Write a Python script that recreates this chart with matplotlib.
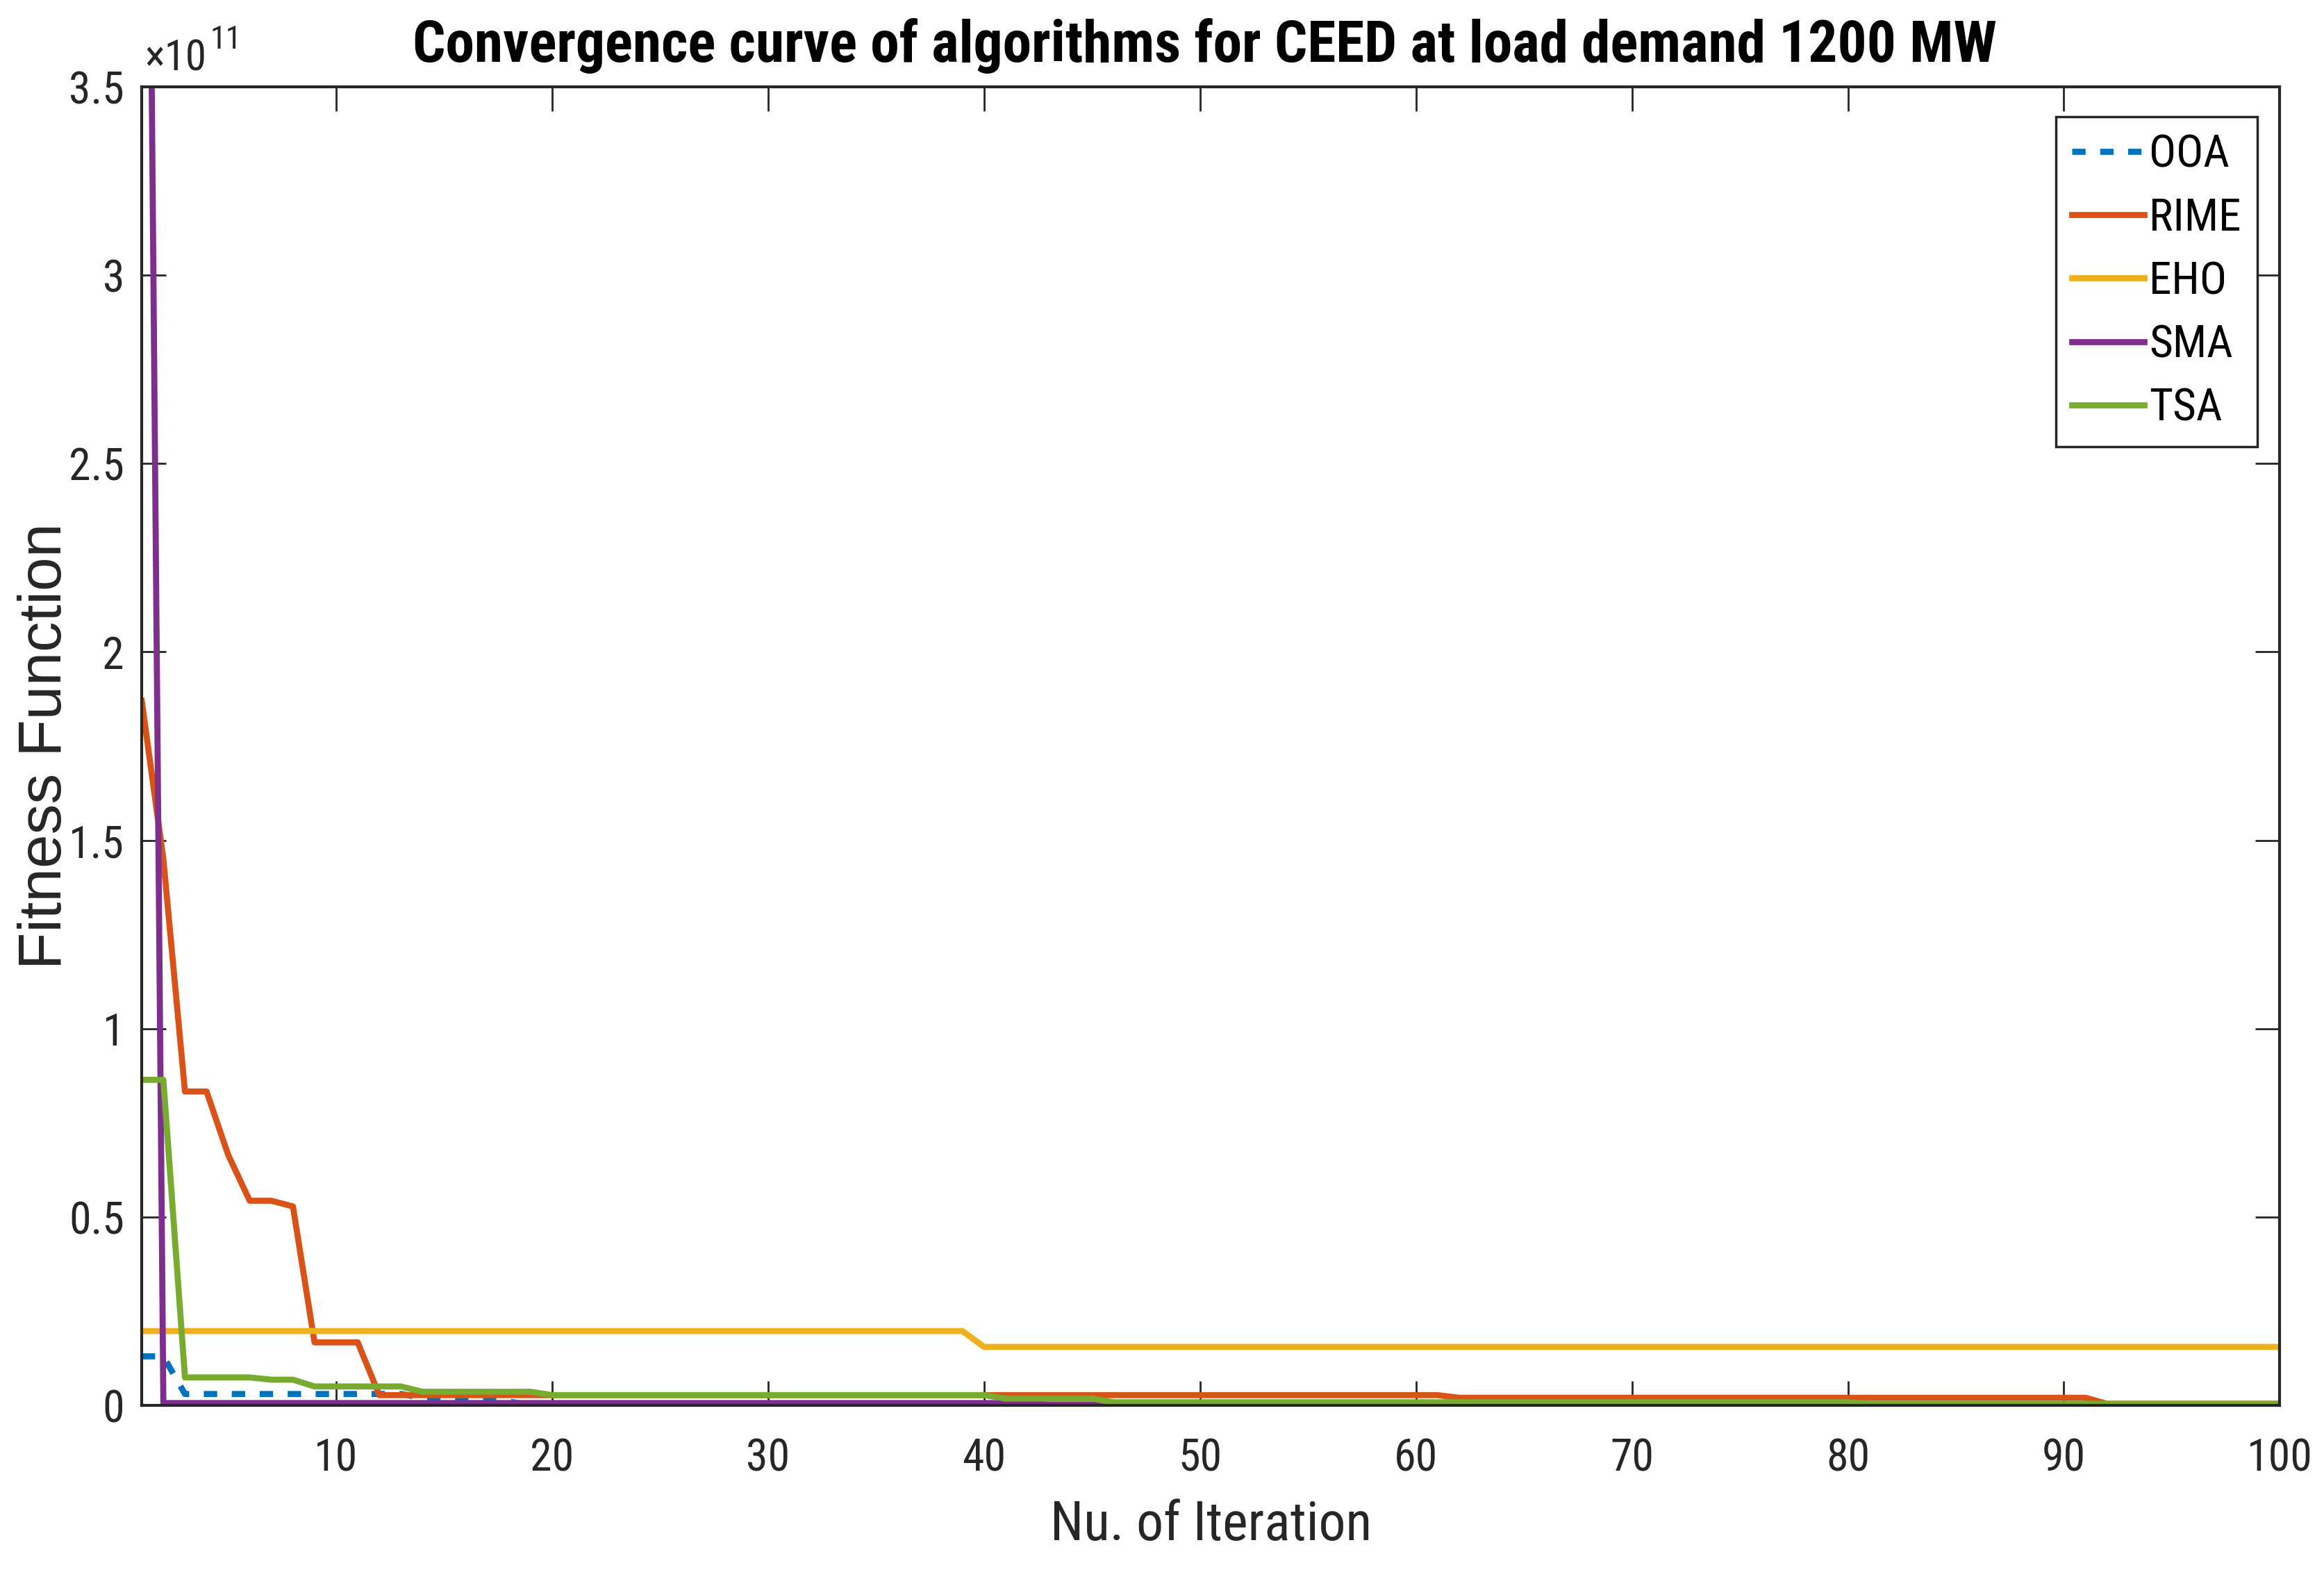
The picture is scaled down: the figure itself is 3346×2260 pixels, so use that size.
import numpy as np
import matplotlib
matplotlib.use("Agg")
import matplotlib.pyplot as plt
from matplotlib.ticker import FuncFormatter, MultipleLocator

# best fitness per iteration, in units of 1e11
iterations = np.arange(1, 101)

ooa = [0.13, 0.13] + [0.03] * 11 + [0.02] * 4 + [0.01] + [0.0] * 82
rime = ([1.87, 1.45, 0.833, 0.833, 0.665, 0.543, 0.543, 0.528, 0.167, 0.167, 0.167]
        + [0.027] * 50 + [0.02] * 30 + [0.004] * 9)
eho = [0.197] * 39 + [0.155] * 61
sma = [6.5] + [0.006] * 41 + [0.002] * 58
tsa = ([0.864, 0.864, 0.074, 0.074, 0.074, 0.074, 0.068, 0.068]
       + [0.05] * 5 + [0.036] * 6 + [0.027] * 21 + [0.018] * 5
       + [0.008] * 35 + [0.004] * 20)

names = ["OOA", "RIME", "EHO", "SMA", "TSA"]
series = [ooa, rime, eho, sma, tsa]
colors = ["#0072BD", "#D95319", "#EDB120", "#7E2F8E", "#77AC30"]
styles = ["--", "-", "-", "-", "-"]

narrow = ["Roboto Condensed", "Liberation Sans", "DejaVu Sans"]
regular = ["Liberation Sans", "DejaVu Sans"]
grey = "#262626"

fig = plt.figure(figsize=(33.46, 22.60), dpi=100)
ax = fig.add_axes([0.061, 0.1049, 0.92, 0.8398])

for name, vals, c, ls in zip(names, series, colors, styles):
    y = np.array(vals) * 1e11
    if ls == "--":
        ax.plot(iterations, y, color=c, lw=6.3, dashes=(2.2, 2.4), label=name)
    else:
        ax.plot(iterations, y, color=c, lw=6.3, label=name)

ax.set_xlim(1, 100)
ax.set_ylim(0, 3.5e11)
ax.xaxis.set_major_locator(MultipleLocator(10))
ax.yaxis.set_major_locator(MultipleLocator(0.5e11))
ax.yaxis.set_major_formatter(FuncFormatter(lambda v, p: f"{v / 1e11:g}"))
ax.xaxis.set_major_formatter(FuncFormatter(lambda v, p: "" if v < 5 else f"{v:g}"))

ax.tick_params(direction="in", length=25, width=2, color=grey,
               top=True, right=True, labelsize=46, labelcolor=grey)
ax.tick_params(axis="x", pad=33)
ax.tick_params(axis="y", pad=18)
for lab in ax.get_xticklabels() + ax.get_yticklabels():
    lab.set_family(narrow)
for sp in ax.spines.values():
    sp.set_linewidth(3)
    sp.set_color(grey)

ax.set_xlabel("Nu. of Iteration", fontsize=56, family=narrow, color=grey)
ax.xaxis.set_label_coords(0.5, -0.0711)
ax.set_ylabel("Fitness Function", fontsize=63, family=regular, color=grey)
ax.yaxis.set_label_coords(-0.032, 0.5)
ax.set_title("Convergence curve of algorithms for CEED at load demand 1200 MW",
             fontsize=60, fontweight="bold", family=narrow, color="black",
             pad=26, x=0.497)

# exponent label like MATLAB
fig.text(208 / 3346, 1 - 102 / 2260, "\u00d710", fontsize=44, family=narrow,
         color=grey, ha="left", va="baseline")
fig.text(302 / 3346, 1 - 70 / 2260, "11", fontsize=33, family=narrow,
         color=grey, ha="left", va="baseline")

leg = ax.legend(loc="upper right", bbox_to_anchor=(3250 / 3346, 1 - 168 / 2260),
                bbox_transform=fig.transFigure, borderaxespad=0,
                prop={"family": narrow, "size": 47}, fancybox=False,
                framealpha=1, edgecolor=grey, handlelength=1.6,
                handletextpad=0.1, borderpad=0.36, labelspacing=0.45)
leg.get_frame().set_linewidth(2.5)

fig.savefig("out.png", dpi=100, facecolor="white")
